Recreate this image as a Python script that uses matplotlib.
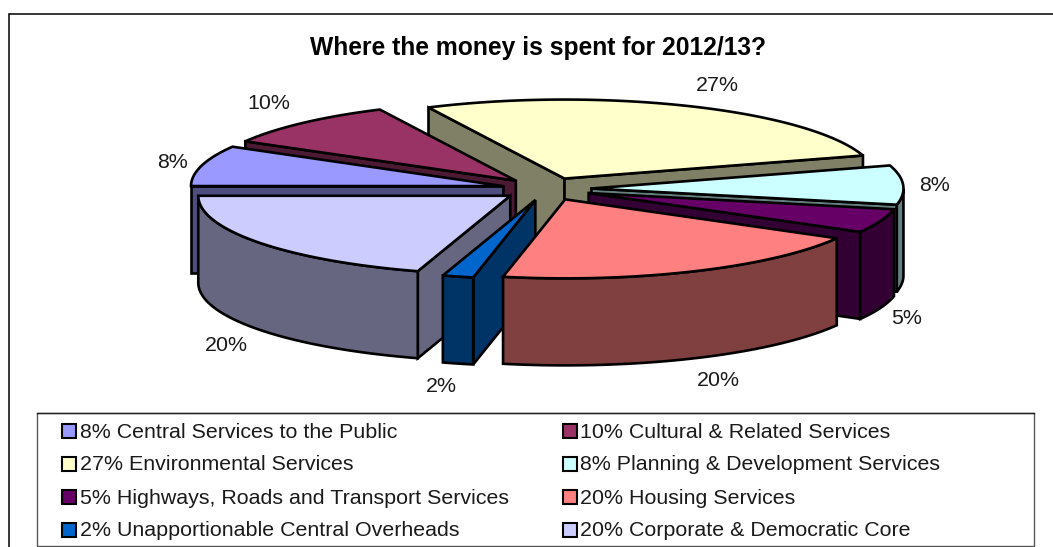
import numpy as np
import matplotlib
matplotlib.use("Agg")
import matplotlib.pyplot as plt
from matplotlib.patches import Polygon, Rectangle

plt.rcParams["font.family"] = ["Liberation Sans", "DejaVu Sans"]

# data, in drawing order round the pie (clockwise from the left)
names = [
    "Central Services to the Public",
    "Cultural & Related Services",
    "Environmental Services",
    "Planning & Development Services",
    "Highways, Roads and Transport Services",
    "Housing Services",
    "Unapportionable Central Overheads",
    "Corporate & Democratic Core",
]
# unrounded shares, the labels round them
shares = [8.3, 9.52, 27.47, 8.0, 4.9, 20.0, 1.6, 20.21]
colors = ["#9999FF", "#993366", "#FFFFCC", "#CCFFFF", "#660066", "#FF8080", "#0066CC", "#CCCCFF"]

# pie geometry in pixels
W, H = 1053, 547
cx, cy = 546.5, 189
rx, ry = 312, 79
depth = 87
explode = 45
label_rx, label_ry = 350, 100
start_angle = 180.0
paint_order = [2, 1, 0, 7, 6, 3, 4, 5]  # back to front
label_nudge = [(8, 2), (-8, -4), (13, -1), (-7, 1), (-9, 3), (8, 3), (-7, 3), (-2, 3)]
text_color = "#1a1a1a"

fig = plt.figure(figsize=(W / 100, H / 100), dpi=100)
ax = fig.add_axes([0, 0, 1, 1])
ax.set_xlim(0, W)
ax.set_ylim(H, 0)
ax.axis("off")


def shade(color):
    # the walls of the pie are the top colour at half brightness
    rgb = np.array(matplotlib.colors.to_rgb(color))
    return tuple(rgb * 0.5)


def face(pts, color, z):
    ax.add_patch(Polygon(pts, closed=True, facecolor=color, edgecolor="black",
                         linewidth=1.9, joinstyle="miter", zorder=z))


# angles of each slice
total = sum(shares)
ends = start_angle - np.cumsum(shares) / total * 360
starts = np.concatenate([[start_angle], ends[:-1]])

for z, i in enumerate(paint_order):
    a1, a2 = starts[i], ends[i]
    mid = np.radians((a1 + a2) / 2)
    ox = cx + explode * np.cos(mid)
    oy = cy - explode * ry / rx * np.sin(mid)

    t = np.radians(np.linspace(a1, a2, 80))
    arc = np.column_stack([ox + rx * np.cos(t), oy - ry * np.sin(t)])
    top = np.vstack([[ox, oy], arc])
    side = shade(colors[i])

    # radial walls
    if np.cos(np.radians(a1)) < 0:
        p = arc[0]
        face([(ox, oy), p, (p[0], p[1] + depth), (ox, oy + depth)], side, z * 10 + 1)
    if np.cos(np.radians(a2)) > 0:
        p = arc[-1]
        face([(ox, oy), p, (p[0], p[1] + depth), (ox, oy + depth)], side, z * 10 + 1)

    # outer wall, only the part which faces the front
    front = arc[np.sin(t) <= 0]
    if len(front) > 1:
        lower = front[::-1] + [0, depth]
        face(np.vstack([front, lower]), side, z * 10 + 2)

    face(top, colors[i], z * 10 + 3)

    # data label
    lx = ox + label_rx * np.cos(mid) + label_nudge[i][0]
    ly = oy - label_ry * np.sin(mid) + label_nudge[i][1]
    if np.sin(mid) < 0:
        ly += depth
    ax.text(lx, ly, f"{shares[i]:.0f}%", fontsize=15.4, color=text_color,
            ha="center", va="center", zorder=200)

ax.text(538, 48, "Where the money is spent for 2012/13?", fontsize=17.75, fontweight="bold",
        ha="center", va="center", zorder=200)

# chart frame, open on the right and at the bottom
ax.plot([9, 9, W], [H, 14, 14], color="black", lw=1.1, zorder=0, solid_joinstyle="miter")

# legend
ax.add_patch(Rectangle((37, 413), 997, 133, facecolor="white", edgecolor="#555555", lw=1, zorder=100))
ax.plot([37, 1034], [413, 413], color="#222222", lw=1, zorder=100.5)
col_x = [62, 563]
row_y = [431, 464, 497, 530]
for i in range(len(names)):
    col = i % 2
    row = i // 2
    ax.add_patch(Rectangle((col_x[col], row_y[row] - 7), 14, 14, facecolor=colors[i],
                           edgecolor="black", lw=1.5, zorder=101))
    ax.text(col_x[col] + 17.5, row_y[row] + 1, f"{shares[i]:.0f}% {names[i]}", fontsize=15.4,
            color=text_color, ha="left", va="center", zorder=101)

fig.savefig("out.png", dpi=100)
